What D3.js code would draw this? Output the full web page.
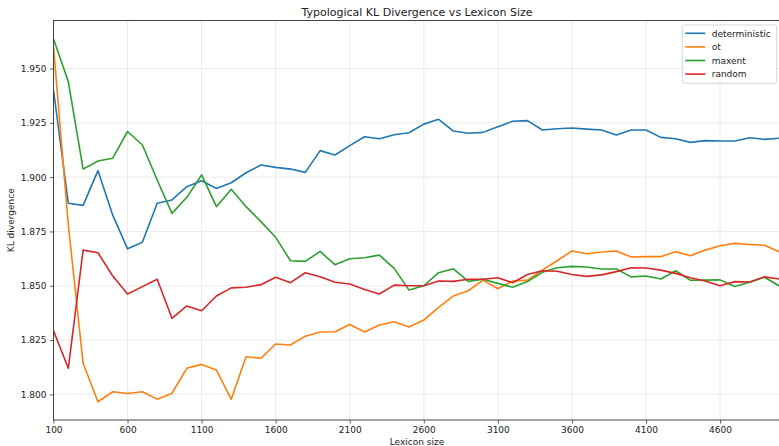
<!DOCTYPE html>
<html>
<meta charset="utf-8">
<head>
  <title>Typological KL Divergence vs Lexicon Size</title>
</head>

<style>
body {
  margin: 0;
  background: #fff;
}
text {
  font-family: "DejaVu Sans", sans-serif;
  fill: #222;
}
.grid line {
  stroke: #e6e6e6;
  stroke-width: 0.8;
}
.series {
  fill: none;
  stroke-width: 1.6;
  stroke-linejoin: round;
}
</style>

<body>
  <svg width="779" height="446"></svg>

  <script src="https://cdnjs.cloudflare.com/ajax/libs/d3/7.8.5/d3.min.js"></script>

  <script>
var width = 779, height = 446
var margin = {left: 53.5, top: 20.5, right: 779.3, bottom: 420}

// lexicon sizes: 100, 200, ... 5000
var sizes = d3.range(100, 5001, 100)

var deterministic = [
  1.940, 1.888, 1.887, 1.903, 1.8825, 1.867, 1.870, 1.888, 1.8895, 1.8956,
  1.8983, 1.8948, 1.8974, 1.902, 1.9056, 1.9045, 1.9037, 1.9022, 1.9122, 1.9102,
  1.9145, 1.9186, 1.9177, 1.9195, 1.9204, 1.9244, 1.9266, 1.9212, 1.9202, 1.9206,
  1.9232, 1.9257, 1.926, 1.9217, 1.9223, 1.9226, 1.9221, 1.9217, 1.9194, 1.9217,
  1.9217, 1.9183, 1.9177, 1.916, 1.9168, 1.9166, 1.9166, 1.9181, 1.9174, 1.9179
]
var ot = [
  1.960, 1.878, 1.8143, 1.7966, 1.8012, 1.8004, 1.8012, 1.7978, 1.8005, 1.812,
  1.8138, 1.8112, 1.7977, 1.8173, 1.8166, 1.8232, 1.8227, 1.8268, 1.8287, 1.8288,
  1.8322, 1.8287, 1.8319, 1.8334, 1.831, 1.8342, 1.840, 1.8453, 1.8477, 1.8526,
  1.8486, 1.8522, 1.8526, 1.8572, 1.8615, 1.866, 1.8647, 1.8655, 1.866, 1.8632,
  1.8634, 1.8634, 1.8657, 1.8638, 1.8664, 1.8684, 1.8695, 1.869, 1.8686, 1.8657
]
var maxent = [
  1.9636, 1.944, 1.9037, 1.9074, 1.9087, 1.921, 1.9148, 1.8987, 1.8833, 1.8907,
  1.901, 1.8864, 1.8944, 1.8864, 1.8795, 1.8723, 1.8615, 1.8612, 1.8658, 1.8597,
  1.8624, 1.8629, 1.8641, 1.858, 1.848, 1.850, 1.856, 1.8578, 1.852, 1.853,
  1.8511, 1.8493, 1.8519, 1.8562, 1.8583, 1.8589, 1.8586, 1.8577, 1.8577, 1.8541,
  1.8545, 1.8531, 1.8569, 1.8525, 1.8526, 1.8527, 1.8497, 1.8516, 1.8539, 1.8499
]
var random = [
  1.8293, 1.812, 1.8664, 1.8652, 1.8545, 1.8462, 1.8496, 1.853, 1.835, 1.8407,
  1.8385, 1.8453, 1.849, 1.8493, 1.8505, 1.8539, 1.8514, 1.856, 1.8541, 1.8516,
  1.8508, 1.8483, 1.8462, 1.8503, 1.850, 1.850, 1.8522, 1.852, 1.853, 1.853,
  1.8537, 1.8514, 1.8552, 1.8569, 1.8567, 1.8552, 1.8543, 1.855, 1.8565, 1.8583,
  1.8582, 1.8572, 1.8557, 1.8537, 1.8522, 1.850, 1.8519, 1.8517, 1.8541, 1.8531
]

var seriesNames = ['deterministic', 'ot', 'maxent', 'random']
var seriesValues = [deterministic, ot, maxent, random]
var colors = ['#1f77b4', '#ff7f0e', '#2ca02c', '#d62728']

var xTicks = [100, 600, 1100, 1600, 2100, 2600, 3100, 3600, 4100, 4600]
var yTicks = [1.800, 1.825, 1.850, 1.875, 1.900, 1.925, 1.950]

var x = d3.scaleLinear().domain([100, 5000]).range([margin.left, margin.right])
var y = d3.scaleLinear().domain([1.7882, 1.9721]).range([margin.bottom, margin.top])

var svg = d3.select('svg')

// grid
var grid = svg.append('g').attr('class', 'grid')
grid.selectAll('.gx')
  .data(xTicks)
  .enter()
  .append('line')
  .attr('x1', function(d) { return x(d) })
  .attr('x2', function(d) { return x(d) })
  .attr('y1', margin.top)
  .attr('y2', margin.bottom)
grid.selectAll('.gy')
  .data(yTicks)
  .enter()
  .append('line')
  .attr('x1', margin.left)
  .attr('x2', margin.right)
  .attr('y1', function(d) { return y(d) })
  .attr('y2', function(d) { return y(d) })

// lines
var line = d3.line()
  .x(function(d, i) { return x(sizes[i]) })
  .y(function(d) { return y(d) })

svg.append('defs').append('clipPath').attr('id', 'clip')
  .append('rect')
  .attr('x', margin.left)
  .attr('y', margin.top)
  .attr('width', width - margin.left)
  .attr('height', margin.bottom - margin.top)

svg.append('g')
  .attr('clip-path', 'url(#clip)')
  .selectAll('path')
  .data(seriesValues)
  .enter()
  .append('path')
  .attr('class', 'series')
  .attr('stroke', function(d, i) { return colors[i] })
  .attr('d', line)

// axes
var xAxis = d3.axisBottom(x).tickValues(xTicks).tickFormat(d3.format('d')).tickSize(3.5).tickPadding(3.5)
var yAxis = d3.axisLeft(y).tickValues(yTicks).tickFormat(d3.format('.3f')).tickSize(3.5).tickPadding(3.5)

var gx = svg.append('g')
  .attr('transform', 'translate(0,' + margin.bottom + ')')
  .call(xAxis)
var gy = svg.append('g')
  .attr('transform', 'translate(' + margin.left + ',0)')
  .call(yAxis)

svg.selectAll('.tick text')
  .style('font-family', '"DejaVu Sans", sans-serif')
  .style('font-size', '9px')
  .attr('fill', '#222')
svg.selectAll('.tick line').attr('stroke', '#333').attr('stroke-width', 0.8)
gx.select('.domain').remove()
gy.select('.domain').remove()

// frame
svg.append('rect')
  .attr('x', margin.left)
  .attr('y', margin.top)
  .attr('width', width + 2 - margin.left)
  .attr('height', margin.bottom - margin.top)
  .attr('fill', 'none')
  .attr('stroke', '#333')
  .attr('stroke-width', 0.9)

// title and labels
svg.append('text')
  .attr('x', 417)
  .attr('y', 16)
  .attr('text-anchor', 'middle')
  .style('font-size', '11px')
  .text('Typological KL Divergence vs Lexicon Size')

svg.append('text')
  .attr('x', 417)
  .attr('y', 445)
  .attr('text-anchor', 'middle')
  .style('font-size', '9px')
  .text('Lexicon size')

svg.append('text')
  .attr('transform', 'translate(14,' + (margin.top + margin.bottom) / 2 + ') rotate(-90)')
  .attr('text-anchor', 'middle')
  .style('font-size', '9px')
  .text('KL divergence')

// legend
var legend = svg.append('g').attr('transform', 'translate(682.3,25)')
legend.append('rect')
  .attr('width', 94.4)
  .attr('height', 58.3)
  .attr('rx', 2)
  .attr('fill', '#fff')
  .attr('fill-opacity', 0.8)
  .attr('stroke', '#ccc')
  .attr('stroke-width', 0.8)

var items = legend.selectAll('.item')
  .data(seriesNames)
  .enter()
  .append('g')
  .attr('transform', function(d, i) { return 'translate(0,' + (8.3 + i * 13.6) + ')' })
items.append('line')
  .attr('x1', 3)
  .attr('x2', 23)
  .attr('stroke', function(d, i) { return colors[i] })
  .attr('stroke-width', 1.6)
items.append('text')
  .attr('x', 29.4)
  .attr('dy', 3.2)
  .style('font-size', '9px')
  .text(function(d) { return d })
  </script>
</body>
</html>
